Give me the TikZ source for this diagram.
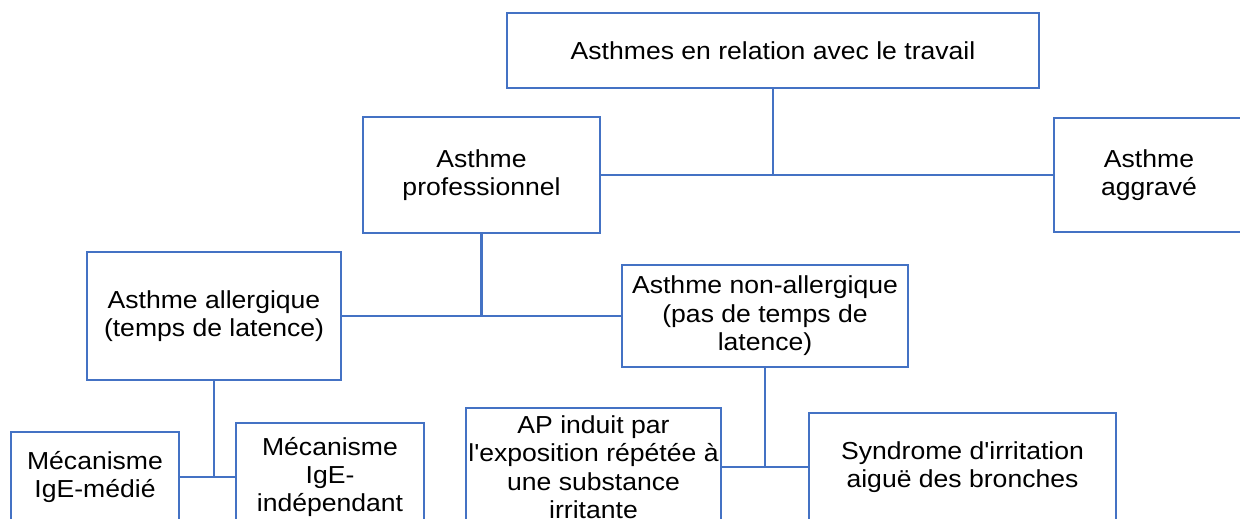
\documentclass[tikz,border=0pt]{standalone}
\usepackage{fontspec}
\newfontfamily\boxfont{Liberation Sans}[FakeStretch=1.08]
\usepackage{tikz}
\usetikzlibrary{calc}
\definecolor{boxblue}{HTML}{4472C4}

\begin{document}
\begin{tikzpicture}[x=0.02cm,y=-0.02cm,line width=1.25pt,
                    box/.style={draw=boxblue,text=black,align=center,inner sep=0pt,
                                font=\boxfont\fontsize{14}{16.2}\selectfont},
                    link/.style={draw=boxblue}]
  \useasboundingbox (0,0) rectangle (1240,519);
  \clip (0,0) rectangle (1240,519);

  \node[box,minimum width=10.64cm,minimum height=1.5cm] (T) at (773,50.5) {Asthmes en relation avec le travail};
  \node[box,minimum width=4.74cm,minimum height=2.32cm] (P) at (481.5,175) {Asthme\\professionnel};
  \node[box,minimum width=3.8cm,minimum height=2.28cm] (G) at (1149,175) {Asthme\\aggravé};
  \node[box,minimum width=5.08cm,minimum height=2.56cm] (A) at (214,316) {Asthme allergique\\(temps de latence)};
  \node[box,minimum width=5.72cm,minimum height=2.04cm] (N) at (765,316) {Asthme non-allergique\\(pas de temps de\\latence)};
  \node[box,minimum width=3.36cm,minimum height=1.8cm] (M) at (95,477) {Mécanisme\\IgE-médié};
  \node[box,minimum width=3.76cm,minimum height=2.16cm] (I) at (330,477) {Mécanisme\\IgE-\\indépendant};
  \node[box,minimum width=5.1cm,minimum height=2.36cm] (AP) at (593.5,467) {AP induit par\\l'exposition répétée à\\une substance\\irritante};
  \node[box,minimum width=6.14cm,minimum height=2.16cm] (S) at (962.5,467) {Syndrome d'irritation\\aiguë des bronches};

  \draw[link] (P) -- (G)
              (A) -- (N)
              (M) -- (I)
              (AP) -- (S);
  \draw[link] (T.south) -- (T.south |- P.east)
              (P.south) -- (P.south |- A.east)
              (A.south) -- (A.south |- M.east)
              (N.south) -- (N.south |- AP.east);
\end{tikzpicture}
\end{document}
